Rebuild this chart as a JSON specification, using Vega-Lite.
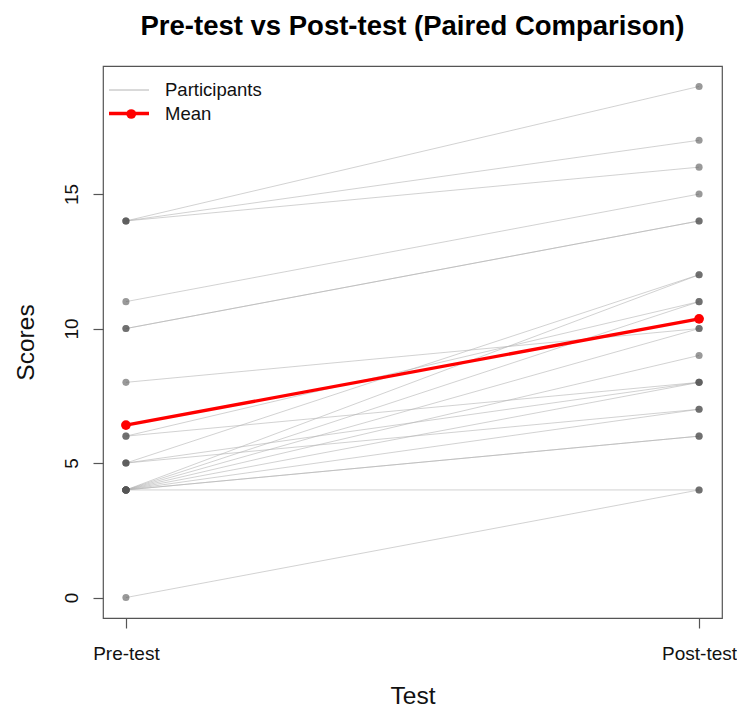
{
  "$schema": "https://vega.github.io/schema/vega-lite/v6.json",
  "width": 619,
  "height": 552,
  "autosize": {"type": "none"},
  "padding": {"left": 103, "top": 66, "right": 15, "bottom": 91},
  "background": "white",
  "title": {
    "text": "Pre-test vs Post-test (Paired Comparison)",
    "anchor": "middle",
    "frame": "group",
    "baseline": "alphabetic",
    "offset": 4,
    "font": "Liberation Sans",
    "fontSize": 27.5,
    "fontWeight": "bold",
    "color": "#000000"
  },
  "datasets": {
    "participants": [
      {"id": 1, "test": "Pre-test", "score": 14, "series": "Participants"},
      {"id": 1, "test": "Post-test", "score": 19, "series": "Participants"},
      {"id": 2, "test": "Pre-test", "score": 14, "series": "Participants"},
      {"id": 2, "test": "Post-test", "score": 17, "series": "Participants"},
      {"id": 3, "test": "Pre-test", "score": 14, "series": "Participants"},
      {"id": 3, "test": "Post-test", "score": 16, "series": "Participants"},
      {"id": 4, "test": "Pre-test", "score": 11, "series": "Participants"},
      {"id": 4, "test": "Post-test", "score": 15, "series": "Participants"},
      {"id": 5, "test": "Pre-test", "score": 10, "series": "Participants"},
      {"id": 5, "test": "Post-test", "score": 14, "series": "Participants"},
      {"id": 6, "test": "Pre-test", "score": 10, "series": "Participants"},
      {"id": 6, "test": "Post-test", "score": 14, "series": "Participants"},
      {"id": 7, "test": "Pre-test", "score": 8, "series": "Participants"},
      {"id": 7, "test": "Post-test", "score": 10, "series": "Participants"},
      {"id": 8, "test": "Pre-test", "score": 6, "series": "Participants"},
      {"id": 8, "test": "Post-test", "score": 8, "series": "Participants"},
      {"id": 9, "test": "Pre-test", "score": 6, "series": "Participants"},
      {"id": 9, "test": "Post-test", "score": 11, "series": "Participants"},
      {"id": 10, "test": "Pre-test", "score": 5, "series": "Participants"},
      {"id": 10, "test": "Post-test", "score": 12, "series": "Participants"},
      {"id": 11, "test": "Pre-test", "score": 5, "series": "Participants"},
      {"id": 11, "test": "Post-test", "score": 8, "series": "Participants"},
      {"id": 12, "test": "Pre-test", "score": 5, "series": "Participants"},
      {"id": 12, "test": "Post-test", "score": 7, "series": "Participants"},
      {"id": 13, "test": "Pre-test", "score": 4, "series": "Participants"},
      {"id": 13, "test": "Post-test", "score": 4, "series": "Participants"},
      {"id": 14, "test": "Pre-test", "score": 4, "series": "Participants"},
      {"id": 14, "test": "Post-test", "score": 6, "series": "Participants"},
      {"id": 15, "test": "Pre-test", "score": 4, "series": "Participants"},
      {"id": 15, "test": "Post-test", "score": 6, "series": "Participants"},
      {"id": 16, "test": "Pre-test", "score": 4, "series": "Participants"},
      {"id": 16, "test": "Post-test", "score": 7, "series": "Participants"},
      {"id": 17, "test": "Pre-test", "score": 4, "series": "Participants"},
      {"id": 17, "test": "Post-test", "score": 8, "series": "Participants"},
      {"id": 18, "test": "Pre-test", "score": 4, "series": "Participants"},
      {"id": 18, "test": "Post-test", "score": 9, "series": "Participants"},
      {"id": 19, "test": "Pre-test", "score": 4, "series": "Participants"},
      {"id": 19, "test": "Post-test", "score": 10, "series": "Participants"},
      {"id": 20, "test": "Pre-test", "score": 4, "series": "Participants"},
      {"id": 20, "test": "Post-test", "score": 11, "series": "Participants"},
      {"id": 21, "test": "Pre-test", "score": 4, "series": "Participants"},
      {"id": 21, "test": "Post-test", "score": 12, "series": "Participants"},
      {"id": 22, "test": "Pre-test", "score": 0, "series": "Participants"},
      {"id": 22, "test": "Post-test", "score": 4, "series": "Participants"}
    ],
    "means": [
      {"test": "Pre-test", "score": 6.41, "series": "Mean", "dot": "Mean"},
      {"test": "Post-test", "score": 10.36, "series": "Mean", "dot": "Mean"}
    ]
  },
  "encoding": {
    "x": {
      "field": "test",
      "type": "ordinal",
      "sort": ["Pre-test", "Post-test"],
      "scale": {"type": "point", "padding": 0.04},
      "axis": {
        "title": "Test",
        "labelAngle": 0,
        "labelFont": "Liberation Sans",
        "labelFontSize": 19,
        "labelColor": "#111111",
        "labelBaseline": "alphabetic",
        "labelPadding": 31,
        "tickSize": 10,
        "tickColor": "#555555",
        "tickWidth": 1.2,
        "domain": false,
        "grid": false,
        "titleFont": "Liberation Sans",
        "titleFontSize": 24.5,
        "titleFontWeight": "normal",
        "titleColor": "#111111",
        "titleBaseline": "alphabetic",
        "titleY": 85
      }
    },
    "y": {
      "field": "score",
      "type": "quantitative",
      "scale": {"domain": [-0.76, 19.76], "nice": false, "zero": false},
      "axis": {
        "title": "Scores",
        "values": [0, 5, 10, 15],
        "labelAngle": 270,
        "labelAlign": "center",
        "labelBaseline": "alphabetic",
        "labelPadding": 16,
        "labelFont": "Liberation Sans",
        "labelFontSize": 19,
        "labelColor": "#111111",
        "tickSize": 10,
        "tickColor": "#555555",
        "tickWidth": 1.2,
        "domain": false,
        "grid": false,
        "titleFont": "Liberation Sans",
        "titleFontSize": 24.5,
        "titleFontWeight": "normal",
        "titleColor": "#111111",
        "titleAngle": 270,
        "titleAlign": "center",
        "titleBaseline": "alphabetic",
        "titleX": -70,
        "titleY": 276
      }
    }
  },
  "layer": [
    {
      "data": {"name": "participants"},
      "mark": {"type": "line", "strokeOpacity": 0.6},
      "encoding": {
        "detail": {"field": "id", "type": "nominal"},
        "color": {
          "field": "series",
          "type": "nominal",
          "scale": {"domain": ["Participants", "Mean"], "range": ["#b4b4b4", "#ff0000"]},
          "legend": {
            "orient": "none",
            "legendX": 4,
            "legendY": 14,
            "title": null,
            "padding": 0,
            "labelFont": "Liberation Sans",
            "labelFontSize": 18.5,
            "labelColor": "#111111",
            "labelOffset": 14,
            "symbolSize": 1600,
            "symbolType": "M-1,0H1",
            "symbolOpacity": 1,
            "clipHeight": 20,
            "rowPadding": 3.5
          }
        },
        "strokeWidth": {
          "field": "series",
          "type": "nominal",
          "scale": {"domain": ["Participants", "Mean"], "range": [1, 3.3]},
          "legend": {
            "orient": "none",
            "legendX": 4,
            "legendY": 14,
            "title": null
          }
        }
      }
    },
    {
      "data": {"name": "participants"},
      "mark": {"type": "point", "filled": true, "size": 50, "color": "#555555", "opacity": 0.6}
    },
    {
      "data": {"name": "means"},
      "mark": {"type": "line", "strokeOpacity": 1},
      "encoding": {
        "color": {"field": "series", "type": "nominal"},
        "strokeWidth": {"field": "series", "type": "nominal"}
      }
    },
    {
      "data": {"name": "means"},
      "mark": {"type": "point", "filled": true, "size": 95, "color": "#ff0000", "opacity": 1},
      "encoding": {
        "shape": {
          "field": "dot",
          "type": "nominal",
          "scale": {"domain": ["Mean"], "range": ["circle"]},
          "legend": {
            "orient": "none",
            "legendX": 19,
            "legendY": 38,
            "title": null,
            "padding": 0,
            "symbolSize": 95,
            "symbolFillColor": "#ff0000",
            "symbolStrokeColor": "#ff0000",
            "symbolStrokeWidth": 0,
            "symbolOpacity": 1,
            "labelExpr": "''",
            "labelFontSize": 18.5,
            "clipHeight": 20
          }
        }
      }
    }
  ],
  "config": {
    "font": "Liberation Sans",
    "view": {"stroke": "#555555", "strokeWidth": 1.2}
  }
}
